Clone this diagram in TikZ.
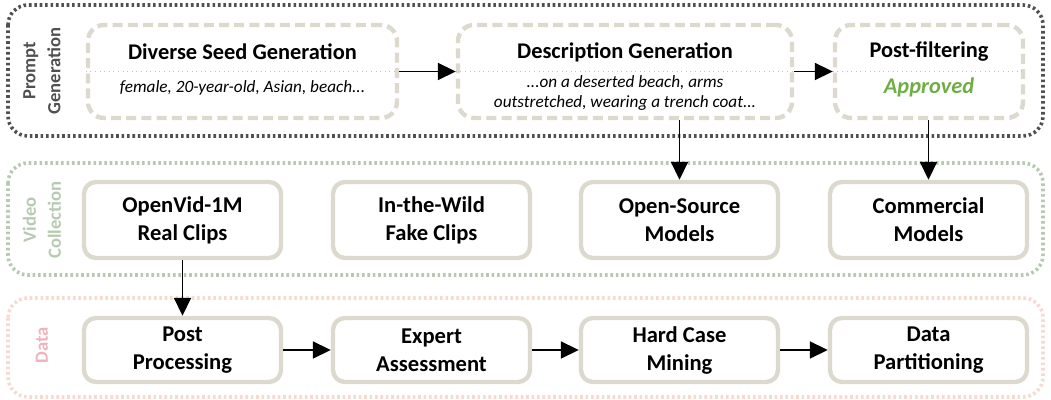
\documentclass[tikz,border=0pt]{standalone}
\usepackage{fontspec}
\setmainfont{Carlito}
\usetikzlibrary{arrows.meta,positioning}

\definecolor{framedark}{HTML}{505050}
\definecolor{framegreen}{HTML}{B6CAB1}
\definecolor{framepink}{HTML}{F8D8D0}
\definecolor{labelpink}{HTML}{EFB3BC}
\definecolor{boxline}{HTML}{DCD9CE}
\definecolor{okgreen}{HTML}{70AD47}

\tikzset{
    frame/.style={line width=1.8pt, dash pattern=on 1.3pt off 1.4pt, rounded corners=10pt},
    dashbox/.style={draw=boxline, line width=2.2pt, dash pattern=on 5pt off 2.6pt, rounded corners=8pt, minimum height=46.5pt},
    solidbox/.style={draw=boxline, line width=2.2pt, rounded corners=6pt, minimum width=98.5pt, align=center, font=\bfseries\fontsize{11.3}{14}\selectfont},
    title/.style={font=\bfseries\fontsize{11.2}{13}\selectfont},
    seedtext/.style={font=\itshape\fontsize{8.6}{10}\selectfont, align=center},
    sidelabel/.style={rotate=90, align=center, font=\bfseries\fontsize{9.3}{12.5}\selectfont},
    divider/.style={draw=black!25, line width=0.3pt, dotted},
    flow/.style={-{Triangle[length=9pt,width=8.5pt]}, line width=0.9pt}
}

\begin{document}
\begin{tikzpicture}[x=0.5pt,y=-0.5pt]

    \useasboundingbox (0,0) rectangle (1051,400);

    %% stage frames
    \draw[frame, draw=framedark] (8,5) rectangle (1043,136);
    \draw[frame, draw=framegreen] (8,163) rectangle (1043,275);
    \draw[frame, draw=framepink] (8,298) rectangle (1043,397);

    \node[sidelabel, text=framedark] (promptlbl) at (42,71) {Prompt\\Generation};
    \node[sidelabel, text=framegreen] (videolbl) at (42,220) {Video\\Collection};
    \node[sidelabel, text=labelpink] (datalbl) at (42,345) {Data};

    %% prompt generation
    \node[dashbox, minimum width=154.5pt] (seed) at (242.5,71.5) {};
    \node[dashbox, minimum width=167pt] (desc) at (625,71.5) {};
    \node[dashbox, minimum width=94pt] (filt) at (929,71.5) {};

    \draw[divider] (seed.west) -- (seed.east);
    \draw[divider] (desc.west) -- (desc.east);
    \draw[divider] (filt.west) -- (filt.east);

    \node[title] (seedtitle) at (242.5,52) {Diverse Seed Generation};
    \node[seedtext] (seedsub) at (242.5,88) {female, 20-year-old, Asian, beach...};
    \node[title] (desctitle) at (625,52) {Description Generation};
    \node[seedtext] (descsub) at (625,93) {...on a deserted beach, arms\\outstretched, wearing a trench coat...};
    \node[title] (filttitle) at (929,52) {Post-filtering};
    \node[title, font=\bfseries\itshape\fontsize{11.2}{13}\selectfont, text=okgreen] (filtsub) at (929,87) {Approved};

    %% video collection
    \node[solidbox, minimum height=38pt] (openvid) at (182.5,220) {OpenVid-1M\\Real Clips};
    \node[solidbox, minimum height=38pt] (wild) at (431.5,220) {In-the-Wild\\Fake Clips};
    \node[solidbox, minimum height=38pt] (opensrc) at (679.5,220) {Open-Source\\Models};
    \node[solidbox, minimum height=38pt] (commercial) at (928.5,220) {Commercial\\Models};

    %% data
    \node[solidbox, minimum height=32pt] (postproc) at (182.5,350) {Post\\Processing};
    \node[solidbox, minimum height=32pt] (expert) at (431.5,350) {Expert\\Assessment};
    \node[solidbox, minimum height=32pt] (hardcase) at (679.5,350) {Hard Case\\Mining};
    \node[solidbox, minimum height=32pt] (partition) at (928.5,350) {Data\\Partitioning};

    %% connectors
    \draw[flow] (seed.east) -- (desc.west);
    \draw[flow] (desc.east) -- (filt.west);
    \draw[flow] (desc.south -| opensrc.north) -- (opensrc.north);
    \draw[flow] (filt.south -| commercial.north) -- (commercial.north);
    \draw[flow] (openvid.south) -- (postproc.north);
    \draw[flow] (postproc.east) -- (expert.west);
    \draw[flow] (expert.east) -- (hardcase.west);
    \draw[flow] (hardcase.east) -- (partition.west);

\end{tikzpicture}
\end{document}
